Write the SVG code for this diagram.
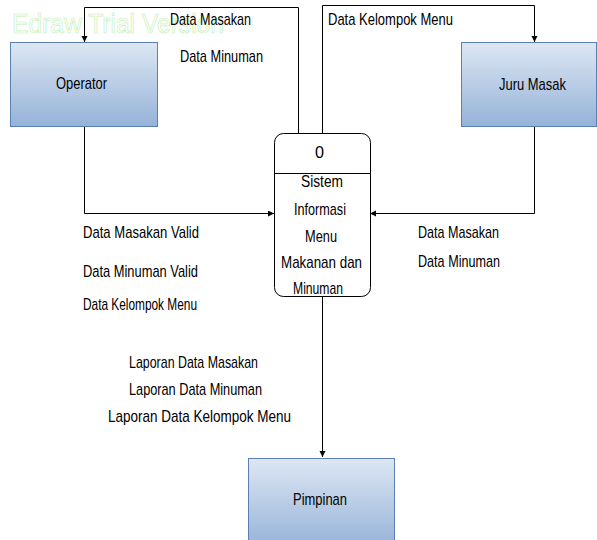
<svg xmlns="http://www.w3.org/2000/svg" width="597" height="540" viewBox="0 0 597 540">
  <defs>
    <linearGradient id="entityFill" x1="0" y1="0" x2="0" y2="1">
      <stop offset="0" stop-color="#dde7f3"/>
      <stop offset="1" stop-color="#95b2d8"/>
    </linearGradient>
    <marker id="arrow" markerWidth="8" markerHeight="8" refX="6" refY="3" orient="auto" markerUnits="userSpaceOnUse">
      <path d="M0,0 L6,3 L0,6 Z" fill="#000"/>
    </marker>
    <style>
      .entity { fill: url(#entityFill); stroke: #5b7fb3; stroke-width: 1; }
      .process { fill: #fff; stroke: #000; stroke-width: 1; }
      .flow { fill: none; stroke: #000; stroke-width: 1; marker-end: url(#arrow); }
      text { font-family: "Liberation Sans", Arial, sans-serif; font-size: 17px; fill: #000; }
      .mark { font-size: 27px; fill: none; stroke: #c6f0b4; stroke-width: 0.7; }
    </style>
  </defs>

  <rect width="597" height="540" fill="#fff"/>

  <!-- trial watermark in the page corner -->
  <text class="mark" x="12" y="33" textLength="212" lengthAdjust="spacingAndGlyphs">Edraw Trial Version</text>

  <!-- data flows -->
  <g id="connectors">
    <polyline class="flow" points="298.5,133 298.5,7.5 84.5,7.5 84.5,42"/>
    <polyline class="flow" points="322.5,133 322.5,5.5 534.5,5.5 534.5,42"/>
    <polyline class="flow" points="84.5,126 84.5,213.5 274,213.5"/>
    <polyline class="flow" points="534.5,126 534.5,213.5 370,213.5"/>
    <polyline class="flow" points="322.5,296 322.5,457"/>
  </g>

  <!-- flow labels -->
  <g id="labels">
    <text x="170" y="25" textLength="81" lengthAdjust="spacingAndGlyphs">Data Masakan</text>
    <text x="180" y="62" textLength="83" lengthAdjust="spacingAndGlyphs">Data Minuman</text>
    <text x="328" y="25" textLength="125" lengthAdjust="spacingAndGlyphs">Data Kelompok Menu</text>
    <text x="83" y="238" textLength="116" lengthAdjust="spacingAndGlyphs">Data Masakan Valid</text>
    <text x="83" y="277" textLength="115" lengthAdjust="spacingAndGlyphs">Data Minuman Valid</text>
    <text x="83" y="310" textLength="114" lengthAdjust="spacingAndGlyphs">Data Kelompok Menu</text>
    <text x="418" y="238" textLength="81" lengthAdjust="spacingAndGlyphs">Data Masakan</text>
    <text x="418" y="267" textLength="82" lengthAdjust="spacingAndGlyphs">Data Minuman</text>
    <text x="129" y="368" textLength="129" lengthAdjust="spacingAndGlyphs">Laporan Data Masakan</text>
    <text x="129" y="395" textLength="133" lengthAdjust="spacingAndGlyphs">Laporan Data Minuman</text>
    <text x="108" y="422" textLength="183" lengthAdjust="spacingAndGlyphs">Laporan Data Kelompok Menu</text>
  </g>

  <g id="operator">
    <rect class="entity" x="10.5" y="42.5" width="147" height="84"/>
    <text x="56" y="89" textLength="51" lengthAdjust="spacingAndGlyphs">Operator</text>
  </g>

  <g id="juru-masak">
    <rect class="entity" x="461.5" y="42.5" width="135" height="84"/>
    <text x="499" y="90" textLength="67" lengthAdjust="spacingAndGlyphs">Juru Masak</text>
  </g>

  <g id="process-0">
    <rect class="process" x="274.5" y="133.5" width="96" height="163" rx="9" ry="9"/>
    <line x1="274.5" y1="173.5" x2="370.5" y2="173.5" stroke="#000"/>
    <text x="315" y="158" textLength="9" lengthAdjust="spacingAndGlyphs">0</text>
    <text x="301" y="187" textLength="42" lengthAdjust="spacingAndGlyphs">Sistem</text>
    <text x="294" y="215" textLength="52" lengthAdjust="spacingAndGlyphs">Informasi</text>
    <text x="305" y="242" textLength="32" lengthAdjust="spacingAndGlyphs">Menu</text>
    <text x="281" y="268" textLength="81" lengthAdjust="spacingAndGlyphs">Makanan dan</text>
    <text x="293" y="294" textLength="50" lengthAdjust="spacingAndGlyphs">Minuman</text>
  </g>

  <g id="pimpinan">
    <rect class="entity" x="248.5" y="458.5" width="146" height="90"/>
    <text x="293" y="505" textLength="54" lengthAdjust="spacingAndGlyphs">Pimpinan</text>
  </g>
</svg>
